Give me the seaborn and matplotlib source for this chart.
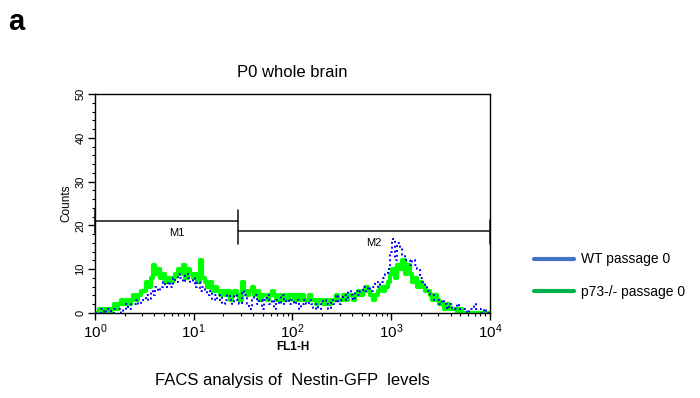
import matplotlib
matplotlib.use("Agg")
import matplotlib.pyplot as plt
from matplotlib.lines import Line2D
from matplotlib.ticker import LogLocator, MultipleLocator, NullFormatter
import numpy as np
import pandas as pd
import seaborn as sns

# ── data (counts per channel, channels evenly spaced in log10 FL1-H, 0..4 step 0.025) ──
channel_log10 = np.linspace(0.0, 4.0, 161)

p73_counts = [
    0, 0, 1, 0, 1, 1, 0, 1, 2, 1,
    2, 3, 2, 3, 2, 3, 4, 3, 4, 5,
    5, 7, 6, 8, 11, 9, 10, 8, 9, 7,
    8, 7, 8, 9, 10, 9, 11, 8, 10, 9,
    8, 9, 7, 12, 8, 7, 6, 7, 5, 6,
    5, 4, 5, 4, 5, 3, 4, 5, 4, 3,
    7, 5, 4, 5, 6, 4, 5, 3, 4, 4,
    3, 4, 5, 4, 3, 4, 3, 4, 3, 4,
    4, 3, 4, 3, 4, 3, 3, 4, 3, 3,
    2, 3, 3, 2, 3, 2, 3, 3, 4, 3,
    3, 4, 3, 4, 4, 3, 4, 5, 4, 5,
    6, 5, 4, 3, 4, 5, 6, 5, 6, 7,
    9, 10, 8, 11, 10, 12, 9, 11, 9, 7,
    8, 6, 7, 6, 5, 5, 4, 3, 4, 3,
    2, 2, 1, 2, 1, 1, 1, 0, 1, 0,
    0, 0, 0, 0, 0, 0, 0, 0, 0, 0,
    0,
]

wt_counts = [
    0, 0, 0, 1, 0, 1, 1, 0, 1, 1,
    1, 0, 1, 2, 1, 2, 2, 3, 2, 3,
    3, 4, 3, 5, 4, 6, 5, 6, 7, 6,
    7, 6, 8, 7, 9, 8, 7, 9, 8, 7,
    8, 6, 7, 5, 6, 5, 4, 5, 3, 4,
    3, 4, 2, 3, 4, 3, 2, 4, 3, 2,
    5, 4, 2, 1, 3, 4, 2, 3, 1, 3,
    4, 2, 3, 1, 3, 2, 4, 2, 3, 2,
    3, 2, 3, 1, 2, 3, 2, 3, 2, 1,
    2, 1, 2, 3, 2, 1, 3, 2, 4, 2,
    3, 4, 3, 5, 4, 3, 5, 4, 5, 6,
    5, 6, 5, 6, 7, 6, 7, 8, 9, 10,
    14, 17, 12, 16, 15, 13, 12, 12, 11, 12,
    11, 10, 8, 7, 6, 5, 4, 4, 3, 3,
    2, 3, 2, 1, 2, 1, 1, 2, 1, 1,
    1, 0, 1, 1, 2, 1, 1, 0, 1, 0,
    0,
]

# marker gates (FL1-H range, height in counts)
m1_range = [1.0, 28.0]
m1_height = 21.0
m2_range = [28.0, 10000.0]
m2_height = 18.7

legend_labels = ["WT passage 0", "p73-/- passage 0"]

# ── style ──
sns.set_style("ticks")
plt.rcParams["font.family"] = ["Liberation Sans", "DejaVu Sans"]
plt.rcParams["mathtext.default"] = "regular"
plt.rcParams["text.color"] = "black"
plt.rcParams["axes.labelcolor"] = "black"
plt.rcParams["xtick.color"] = "black"
plt.rcParams["ytick.color"] = "black"

df = pd.DataFrame({
    "FL1-H": 10 ** channel_log10,
    "WT": wt_counts,
    "p73": p73_counts,
})

fig = plt.figure(figsize=(7.0, 3.98), dpi=100)
ax = fig.add_axes([0.1357, 0.2136, 0.5643, 0.5502])

sns.lineplot(data=df, x="FL1-H", y="p73", color="#00FF00", linewidth=3.0,
             drawstyle="steps-mid", ax=ax, zorder=2)
sns.lineplot(data=df, x="FL1-H", y="WT", color="#0000FF", linewidth=1.4,
             linestyle=(0, (1, 1.5)), drawstyle="steps-mid", ax=ax, zorder=3)

ax.set_xscale("log")
ax.set_xlim(1, 10000)
ax.set_ylim(0, 50)

ax.xaxis.set_minor_locator(LogLocator(base=10, subs=np.arange(2, 10), numticks=100))
ax.xaxis.set_minor_formatter(NullFormatter())
ax.set_xticks([1, 10, 100, 1000, 10000])
ax.set_xticklabels([r"$10^{0}$", r"$10^{1}$", r"$10^{2}$", r"$10^{3}$", r"$10^{4}$"],
                   fontsize=11)
ax.yaxis.set_major_locator(MultipleLocator(10))
ax.yaxis.set_minor_locator(MultipleLocator(2))
for lab in ax.get_yticklabels():
    lab.set_rotation(90)
    lab.set_va("center")
    lab.set_fontsize(8)
ax.tick_params(axis="both", which="major", direction="out", length=5, width=1, pad=2)
ax.tick_params(axis="both", which="minor", direction="out", length=2.5, width=0.8)

for sp in ax.spines.values():
    sp.set_visible(True)
    sp.set_linewidth(1.0)
    sp.set_color("black")

ax.set_xlabel("FL1-H", fontsize=8.5, fontweight="bold", labelpad=0)
ax.set_ylabel("Counts", fontsize=8.5, labelpad=2)

# marker gates
gate_kw = dict(color="#222222", linewidth=1.2, clip_on=False)
ax.plot(m1_range, [m1_height, m1_height], **gate_kw)
ax.plot([m1_range[0], m1_range[0]], [m1_height - 2.8, m1_height + 2.8], **gate_kw)
ax.plot(m2_range, [m2_height, m2_height], **gate_kw)
ax.plot([m2_range[0], m2_range[0]], [m2_height - 3.0, m1_height + 2.6], **gate_kw)
ax.plot([m2_range[1], m2_range[1]], [m2_height - 3.0, m2_height + 2.6], **gate_kw)
ax.text(6.8, m1_height - 2.8, "M1", fontsize=8, ha="center", va="center")
ax.text(660, m2_height - 2.7, "M2", fontsize=8, ha="center", va="center")

ax.set_title("P0 whole brain", fontsize=12, pad=12)

# legend
handles = [
    Line2D([0], [0], color="#4472C4", linewidth=3),
    Line2D([0], [0], color="#00B050", linewidth=3),
]
fig.legend(handles, legend_labels, loc="upper left", bbox_to_anchor=(0.745, 0.397),
           frameon=False, fontsize=10, handlelength=2.9, labelspacing=1.35,
           handletextpad=0.5)

fig.text(0.012, 0.945, "a", fontsize=21, fontweight="bold", ha="left", va="center")
fig.text(0.418, 0.045, "FACS analysis of  Nestin-GFP  levels", fontsize=12,
         ha="center", va="center")

fig.savefig("out.png", dpi=100)
